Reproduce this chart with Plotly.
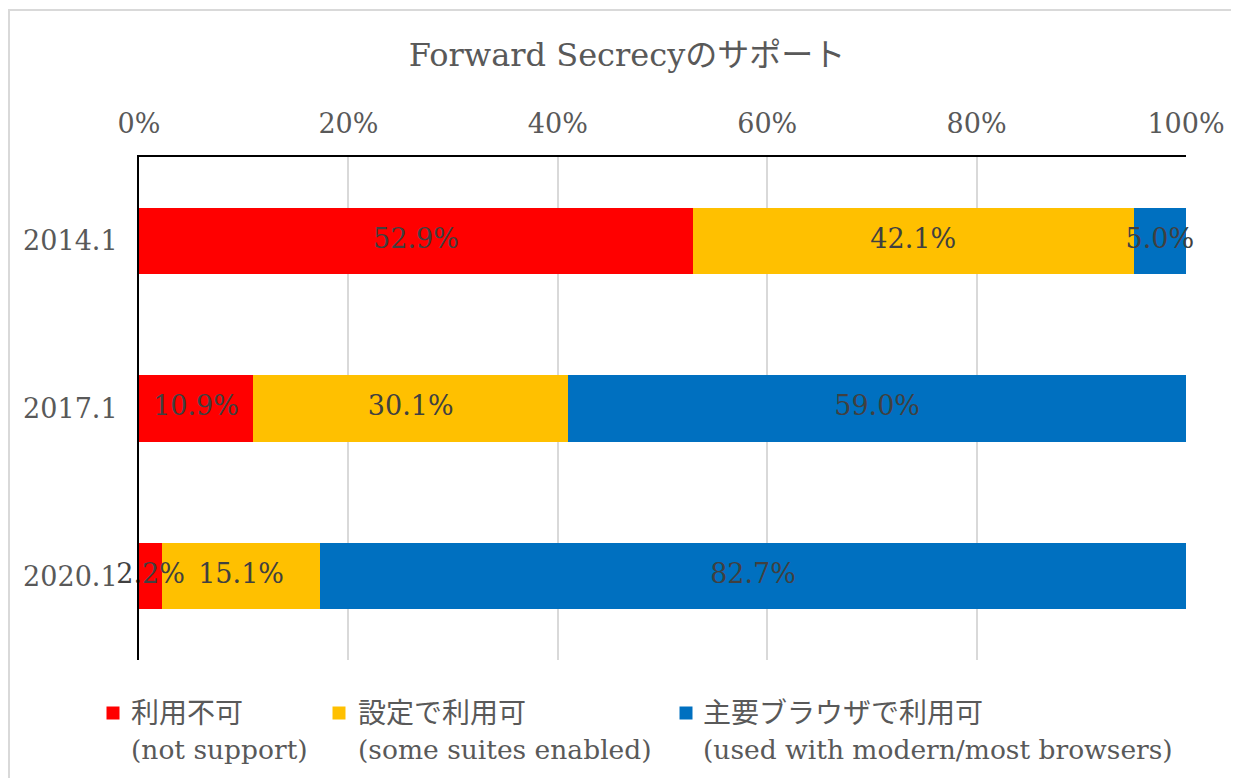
import plotly.graph_objects as go

categories = ["2014.1", "2017.1", "2020.1"]
not_support = [52.9, 10.9, 2.2]
some_enabled = [42.1, 30.1, 15.1]
modern_browsers = [5.0, 59.0, 82.7]
series_names_jp = ["利用不可", "設定で利用可", "主要ブラウザで利用可"]
series_names_en = ["(not support)", "(some suites enabled)", "(used with modern/most browsers)"]
colors = ["#FF0000", "#FFC000", "#0070C0"]
tick_vals = [0, 0.2, 0.4, 0.6, 0.8, 1.0]
tick_text = ["0%", "20%", "40%", "60%", "80%", "100%"]

SERIF = "DejaVu Serif, Noto Sans CJK JP"

series = [not_support, some_enabled, modern_browsers]

fig = go.Figure()
for jp, vals, col in zip(series_names_jp, series, colors):
    fig.add_trace(go.Bar(
        y=categories, x=[v / 100 for v in vals], orientation="h", name=jp,
        marker=dict(color=col, line=dict(width=0)), hoverinfo="skip",
        showlegend=False,
    ))

# data labels centred on each segment
for vi, vals in enumerate(series):
    mids = []
    for ci in range(len(categories)):
        start = sum(series[k][ci] for k in range(vi))
        mids.append((start + vals[ci] / 2) / 100)
    fig.add_trace(go.Scatter(
        y=categories, x=mids, mode="text", text=[f"{v:.1f}%" for v in vals],
        textfont=dict(family=SERIF, size=27, color="#404040"),
        showlegend=False, hoverinfo="skip", cliponaxis=False,
    ))

# page body has an 8px margin, so the figure is drawn 8px smaller and shifted
OFF = 8
W, H = 1239 - OFF, 778 - OFF
L, T = 139 - OFF, 157 - OFF
R, B = 53, 118
pw, ph = W - L - R, H - T - B

def px_x(x):  # page pixel -> paper x
    return (x - 139) / pw

def px_y(y):  # page pixel -> paper y
    return (660 - y) / ph

# hand-built legend (two-line entries)
legend_sym_x = [113, 339, 686]
legend_txt_x = [129, 356, 701]
legend_sym_y = 713
annotations = []
shapes = [dict(type="rect", xref="paper", yref="paper",
               x0=px_x(9), x1=1.5, y0=-1, y1=px_y(10),
               line=dict(color="#D9D9D9", width=2), layer="below")]
for jp, en, col, sx, tx in zip(series_names_jp, series_names_en, colors,
                               legend_sym_x, legend_txt_x):
    shapes.append(dict(type="rect", xref="paper", yref="paper",
                       x0=px_x(sx - 6.5), x1=px_x(sx + 6.5),
                       y0=px_y(legend_sym_y + 6.5), y1=px_y(legend_sym_y - 6.5),
                       fillcolor=col, line=dict(width=0)))
    annotations.append(dict(
        xref="paper", yref="paper", x=px_x(tx), y=px_y(731),
        xanchor="left", yanchor="middle", align="left", showarrow=False,
        text=f"{jp}<br><span style='font-size:26.5px'>{en}</span>",
        font=dict(family=SERIF, size=28, color="#595959")))

fig.update_layout(
    width=W, height=H, barmode="stack", bargap=0.606,
    margin=dict(l=L, r=R, t=T, b=B, autoexpand=False),
    paper_bgcolor="white", plot_bgcolor="white", showlegend=False,
    title=dict(text="Forward Secrecyのサポート", x=(627 - OFF) / W, xanchor="center",
               y=1 - (55 - OFF) / H, yanchor="middle",
               font=dict(family=SERIF, size=32, color="#595959")),
    xaxis=dict(side="top", range=[0, 1], tickvals=tick_vals, ticktext=tick_text,
               showgrid=True, gridcolor="#D9D9D9", gridwidth=1.5,
               showline=True, linecolor="black", linewidth=2, zeroline=False,
               ticks="", ticklabelstandoff=11,
               tickfont=dict(family=SERIF, size=27, color="#595959")),
    yaxis=dict(autorange="reversed", showgrid=False, showline=True,
               linecolor="black", linewidth=2, zeroline=False, ticks="",
               ticklabelstandoff=14,
               tickfont=dict(family=SERIF, size=27, color="#595959")),
    shapes=shapes,
    annotations=annotations,
)

fig.write_html("out.html")
